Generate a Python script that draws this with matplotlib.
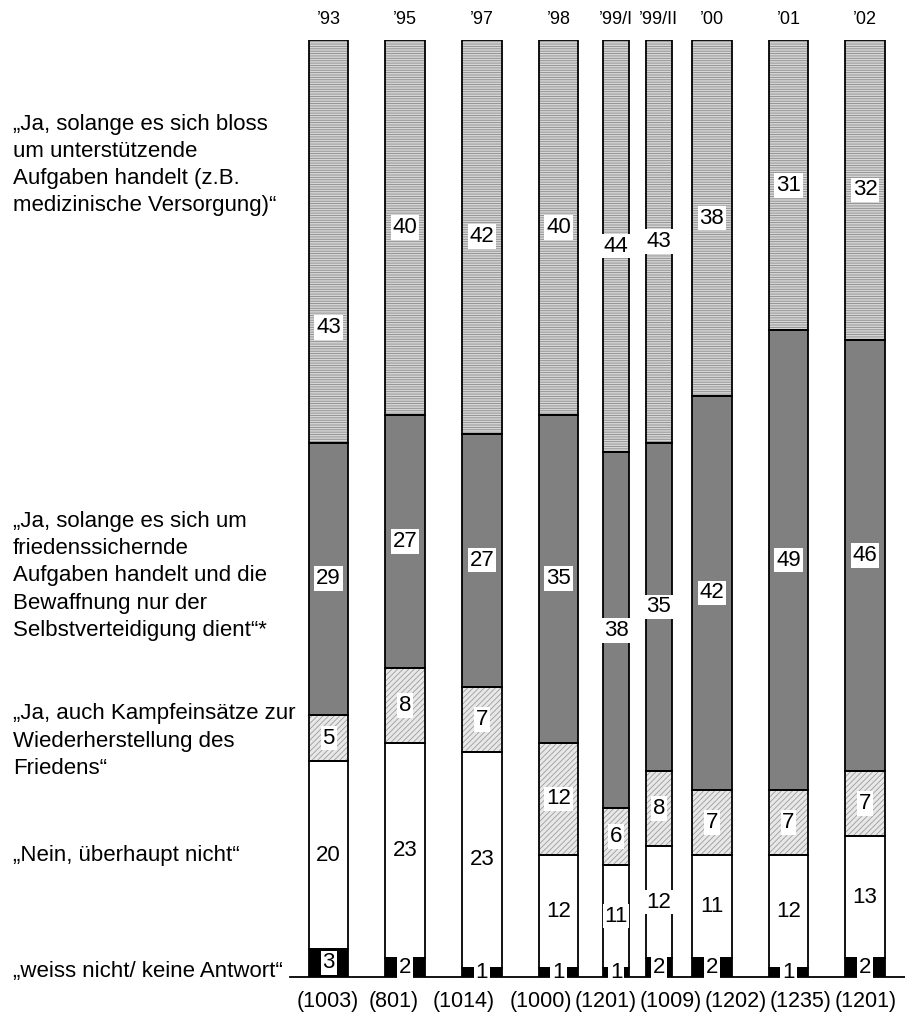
import numpy as np
import matplotlib
matplotlib.use("Agg")
import matplotlib.pyplot as plt
from matplotlib.transforms import blended_transform_factory

# survey waves and sample sizes
years = ["’93", "’95", "’97", "’98", "’99/I", "’99/II", "’00", "’01", "’02"]
sample_sizes = ["(1003)", "(801)", "(1014)", "(1000)", "(1201)", "(1009)",
                "(1202)", "(1235)", "(1201)"]

# answer shares in percent, from bottom to top of each bar
weiss_nicht = [3, 2, 1, 1, 1, 2, 2, 1, 2]
nein = [20, 23, 23, 12, 11, 12, 11, 12, 13]
kampf = [5, 8, 7, 12, 6, 8, 7, 7, 7]
friedens = [29, 27, 27, 35, 38, 35, 42, 49, 46]
unterstuetzend = [43, 40, 42, 40, 44, 43, 38, 31, 32]

answers = [
    "„Ja, solange es sich bloss\num unterstützende\nAufgaben handelt (z.B.\nmedizinische Versorgung)“",
    "„Ja, solange es sich um\nfriedenssichernde\nAufgaben handelt und die\nBewaffnung nur der\nSelbstverteidigung dient“*",
    "„Ja, auch Kampfeinsätze zur\nWiederherstellung des\nFriedens“",
    "„Nein, überhaupt nicht“",
    "„weiss nicht/ keine Antwort“",
]

# layout (bar positions are uneven in the original)
xpos = [0, 1, 2, 3, 3.75, 4.31, 5, 6, 7]
widths = [0.52, 0.52, 0.52, 0.52, 0.34, 0.34, 0.52, 0.52, 0.52]
# the sample size labels run together under the right bars
n_label_px = [328, 394, 464, 541, 606, 671, 736, 801, 866]
answer_y = [165, 576, 741, 855, 972]  # pixel rows of the left labels

plt.rcParams['font.family'] = ['Liberation Sans', 'DejaVu Sans']
plt.rcParams['hatch.linewidth'] = 0.6

fig = plt.figure(figsize=(9.05, 10.19), dpi=100)
ax = fig.add_axes([290 / 905, 1 - 977 / 1019, 615 / 905, 937 / 1019])

segments = [weiss_nicht, nein, kampf, friedens, unterstuetzend]
faces = ['black', 'white', '#e8e8e8', '#808080', '#d6d6d6']
hatch_cols = ['black', 'white', '#9c9c9c', '#808080', '#8a8a8a']
hatches = [None, None, '//////', None, '-------']

bottom = np.zeros(len(years))
for k, vals in enumerate(segments):
    vals = np.array(vals, dtype=float)
    ax.bar(xpos, vals, width=widths, bottom=bottom, color=faces[k],
           edgecolor=hatch_cols[k], hatch=hatches[k], linewidth=0, zorder=2)
    ax.bar(xpos, vals, width=widths, bottom=bottom, fill=False,
           edgecolor='black', linewidth=1.3, zorder=3)
    for i, v in enumerate(vals):
        yc = bottom[i] + v / 2
        if k == 4 and i == 0:
            yc = 69.3
        ax.text(xpos[i], yc, "%d" % v, ha='center', va='center', fontsize=16,
                zorder=5,
                bbox=dict(boxstyle='square,pad=0.08', fc='white', ec='none'))
    bottom += vals

ax.set_xlim(-0.503, 7.52)
ax.set_ylim(0, 100)
for s in ['top', 'right', 'left']:
    ax.spines[s].set_visible(False)
ax.spines['bottom'].set_linewidth(1.3)
ax.set_xticks([])
ax.set_yticks([])

tr = blended_transform_factory(ax.transData, ax.transAxes)
for i in range(len(years)):
    ax.text(xpos[i], 1.0224, years[i], transform=tr, ha='center', va='center',
            fontsize=13)
    fig.text(n_label_px[i] / 905, 1 - 1001 / 1019, sample_sizes[i],
             ha='center', va='center', fontsize=15.5)

for txt, y in zip(answers, answer_y):
    fig.text(13 / 905, 1 - y / 1019, txt, ha='left', va='center',
             fontsize=16, linespacing=1.38)

fig.savefig("out.png", dpi=100)
